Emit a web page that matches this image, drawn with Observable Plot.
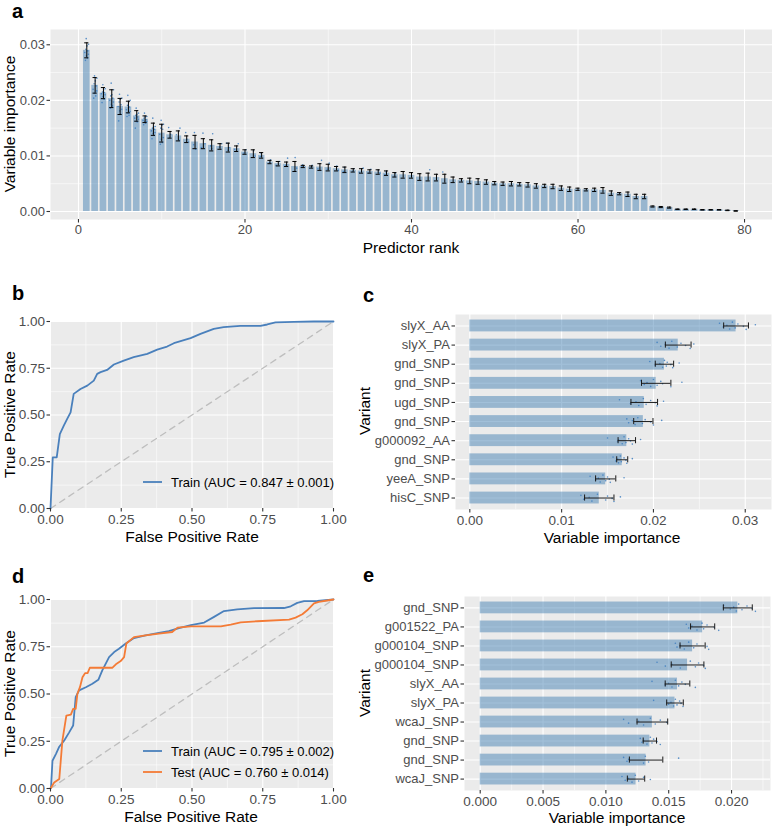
<!DOCTYPE html>
<html><head><meta charset="utf-8">
<script src="https://cdn.jsdelivr.net/npm/d3@7"></script>
<script src="https://cdn.jsdelivr.net/npm/@observablehq/plot@0.6"></script>
<style>
body{margin:0;background:#fff;}
#fig{position:relative;width:772px;height:827px;font-family:"Liberation Sans",Arial,sans-serif;background:#fff;}
</style></head><body><div id="fig"></div>
<script>
// ---------- DATA ----------
// Panel a: mean variable importance by predictor rank (1..79) and error half-widths
const aImportance = [0.0290,0.0227,0.0213,0.0203,0.0189,0.0188,0.0172,0.0166,0.0148,0.0141,
 0.0138,0.0136,0.0130,0.0125,0.0122,0.0119,0.0117,0.0115,0.0113,0.0107,
 0.0104,0.0101,0.0089,0.0086,0.0085,0.0081,0.0081,0.0080,0.0080,0.0079,
 0.0077,0.0075,0.0074,0.0073,0.0072,0.0071,0.0069,0.0066,0.0066,0.0065,
 0.0062,0.0062,0.0061,0.0059,0.0057,0.0056,0.0055,0.0054,0.0053,0.0051,
 0.0050,0.0050,0.0049,0.0048,0.0046,0.0046,0.0045,0.0042,0.0040,0.0040,
 0.0039,0.0039,0.0038,0.0033,0.0032,0.0031,0.0027,0.0027,0.0009,0.0008,
 0.0007,0.0004,0.0004,0.0004,0.0003,0.0003,0.0003,0.0002,0.0001];
const aError = [0.00135,0.0014,0.0010,0.0016,0.00145,0.00105,0.00095,0.0006,0.0011,0.0016,
 0.0006,0.0009,0.0006,0.0012,0.0009,0.0010,0.0005,0.0008,0.0005,0.0004,
 0.0007,0.0005,0.0003,0.0004,0.0004,0.0009,0.0002,0.0002,0.0006,0.0006,
 0.0004,0.0005,0.0003,0.0004,0.0003,0.0004,0.0004,0.0004,0.0006,0.0005,
 0.0006,0.0007,0.0006,0.0008,0.0005,0.0003,0.0005,0.0005,0.0004,0.0003,
 0.0003,0.0004,0.0003,0.0004,0.0004,0.0003,0.0004,0.0004,0.0004,0.0002,
 0.0002,0.0003,0.0005,0.0004,0.0002,0.0004,0.0004,0.0004,0.0001,0.0001,
 0.0001,0.00005,0.00005,0.00005,0.00005,0.00005,0.00005,0.00005,0.00005];
const aExtraRank = [11,11,11,12,12,12,13,13,13,14,14,14,15,15,15,16,16,16,17,17,18,18,18,19,19,
 20,20,21,21,22,22,23,23,24,24,25,25,26,26,27,27,28,28,29,29,30,30,31,31,32,32,33,33,34,34,35,35,36,36,37,37,38,38,42,44];
const aExtraValue = [0.0151,0.0139,0.0133,0.0150,0.0138,0.0128,0.0142,0.0130,0.0125,0.0142,0.0120,0.0112,
 0.0141,0.0122,0.0115,0.0140,0.0118,0.0113,0.0122,0.0116,0.0123,0.0115,0.0110,0.0122,0.0112,
 0.0111,0.0105,0.0109,0.0100,0.0104,0.0099,0.0093,0.0088,0.0090,0.0083,0.0096,0.0083,0.0097,0.0078,
 0.0084,0.0081,0.0083,0.0079,0.0092,0.0077,0.0087,0.0076,0.0082,0.0074,0.0079,0.0072,0.0077,0.0072,
 0.0078,0.0070,0.0076,0.0069,0.0074,0.0069,0.0071,0.0066,0.0069,0.0063,0.0075,0.0071];
const aTicksX = [0,20,40,60,80];
const aTicksY = [0,0.01,0.02,0.03];

// Panel b: ROC (train)
const bFpr = [0,0.008,0.022,0.033,0.047,0.059,0.071,0.082,0.106,0.130,0.153,0.165,0.177,0.200,0.224,0.259,0.294,0.342,0.377,0.412,0.436,0.495,0.530,0.577,0.612,0.671,0.742,0.766,0.795,0.860,0.930,1.0];
const bTpr = [0,0.273,0.273,0.398,0.443,0.479,0.514,0.613,0.639,0.657,0.684,0.720,0.729,0.741,0.770,0.791,0.809,0.827,0.850,0.866,0.884,0.911,0.934,0.961,0.970,0.977,0.977,0.984,0.995,0.998,1.0,1.0];
const rocTicks = [0,0.25,0.5,0.75,1];

// Panel c: top-10 variants (train model)
const cVariant = ["slyX_AA","slyX_PA","gnd_SNP","gnd_SNP","ugd_SNP","gnd_SNP","g000092_AA","gnd_SNP","yeeA_SNP","hisC_SNP"];
const cImportance = [0.0290,0.0227,0.0212,0.0203,0.0190,0.0189,0.0171,0.0166,0.0148,0.0141];
const cError = [0.00135,0.0014,0.0010,0.0016,0.00145,0.00105,0.00095,0.0006,0.0011,0.0016];
const cPoints = [
 [0.0272,0.0276,0.0280,0.0283,0.0286,0.0289,0.0292,0.0298,0.0301,0.0311],
 [0.0204,0.0208,0.0213,0.0217,0.0220,0.0226,0.0230,0.0235,0.0240,0.0244],
 [0.0196,0.0202,0.0207,0.0210,0.0212,0.0214,0.0215,0.0219,0.0221,0.0228],
 [0.0186,0.0190,0.0193,0.0197,0.0200,0.0204,0.0208,0.0210,0.0219,0.0231],
 [0.0163,0.0175,0.0181,0.0184,0.0189,0.0192,0.0197,0.0202,0.0204,0.0211],
 [0.0171,0.0173,0.0177,0.0180,0.0183,0.0188,0.0191,0.0197,0.0200,0.0209],
 [0.0150,0.0161,0.0162,0.0166,0.0168,0.0170,0.0173,0.0175,0.0177,0.0186],
 [0.0156,0.0159,0.0161,0.0162,0.0164,0.0165,0.0168,0.0170,0.0171,0.0177],
 [0.0131,0.0137,0.0140,0.0142,0.0145,0.0148,0.0150,0.0152,0.0153,0.0168],
 [0.0121,0.0124,0.0130,0.0133,0.0139,0.0148,0.0150,0.0155,0.0157,0.0164]];
const cTicksX = [0,0.01,0.02,0.03];

// Panel d: ROC train vs test
const dTrainFpr = [0,0.002,0.007,0.019,0.031,0.048,0.066,0.080,0.089,0.101,0.125,0.148,0.169,0.183,0.207,0.225,0.242,0.266,0.295,0.336,0.383,0.418,0.454,0.496,0.543,0.578,0.613,0.660,0.719,0.825,0.849,0.872,0.896,0.943,1.0];
const dTrainTpr = [0,0.010,0.147,0.182,0.221,0.253,0.297,0.333,0.483,0.519,0.536,0.554,0.575,0.625,0.695,0.722,0.739,0.767,0.796,0.810,0.823,0.833,0.849,0.864,0.878,0.908,0.939,0.948,0.954,0.955,0.964,0.982,0.991,0.992,1.0];
const dTestFpr = [0,0.013,0.031,0.042,0.056,0.072,0.080,0.089,0.095,0.104,0.113,0.122,0.131,0.139,0.219,0.231,0.248,0.260,0.268,0.295,0.336,0.383,0.430,0.449,0.496,0.602,0.637,0.672,0.731,0.843,0.866,0.890,0.907,0.931,0.948,0.983,1.0];
const dTestTpr = [0,0.032,0.050,0.253,0.386,0.391,0.421,0.421,0.501,0.536,0.589,0.610,0.610,0.639,0.639,0.657,0.674,0.695,0.767,0.801,0.810,0.819,0.828,0.851,0.858,0.858,0.867,0.879,0.885,0.894,0.904,0.922,0.943,0.979,0.987,0.996,1.0];

// Panel e: top-10 variants (train/test model)
const eVariant = ["gnd_SNP","g001522_PA","g000104_SNP","g000104_SNP","slyX_AA","slyX_PA","wcaJ_SNP","gnd_SNP","gnd_SNP","wcaJ_SNP"];
const eImportance = [0.0205,0.0177,0.0169,0.0165,0.0157,0.0155,0.0137,0.0135,0.0132,0.0124];
const eError = [0.00115,0.00096,0.0010,0.0013,0.00098,0.00066,0.00122,0.00053,0.00133,0.00069];
const ePoints = [
 [0.01937,0.01990,0.02017,0.02038,0.02057,0.02083,0.02123,0.02163,0.02190],
 [0.01640,0.01659,0.01685,0.01725,0.01765,0.01778,0.01805,0.01863,0.01898],
 [0.01553,0.01566,0.01592,0.01624,0.01659,0.01699,0.01725,0.01805,0.01818],
 [0.01407,0.01473,0.01526,0.01592,0.01672,0.01712,0.01738,0.01778,0.01791],
 [0.01367,0.01473,0.01499,0.01526,0.01553,0.01579,0.01605,0.01632,0.01712],
 [0.01380,0.01500,0.01518,0.01539,0.01553,0.01566,0.01587,0.01598,0.01614],
 [0.01141,0.01181,0.01261,0.01300,0.01354,0.01393,0.01433,0.01486],
 [0.01274,0.01287,0.01300,0.01327,0.01354,0.01367,0.01380,0.01407,0.01433],
 [0.01141,0.01168,0.01181,0.01300,0.01314,0.01340,0.01579],
 [0.01128,0.01154,0.01181,0.01208,0.01234,0.01261,0.01300,0.01354]];
const eTicksX = [0,0.005,0.01,0.015,0.02];

const legendB = ["Train (AUC = 0.847 ± 0.001)"];
const legendD = ["Train (AUC = 0.795 ± 0.002)","Test (AUC = 0.760 ± 0.014)"];

// ---------- STYLE ----------
const FONT = '"Liberation Sans", Arial, Helvetica, sans-serif';
const GREY = "#EBEBEB";
const BAR = "#4682B4";
const PT = "#3C7DC0";
const BLUE = "#4A80BC";
const ORANGE = "#F47B36";
const jitter = [-0.14,0.06,-0.04,0.16,-0.2,0.1,-0.1,0.02,0.18,-0.06];
const fig = document.getElementById("fig");

function place(svg, left, top) {
  svg.style.position = "absolute";
  svg.style.left = left + "px";
  svg.style.top = top + "px";
  fig.appendChild(svg);
}
const baseStyle = {fontFamily: FONT, background: "transparent", overflow: "visible", maxWidth: "none"};
const grid = (scale, ticks, w) => (scale === "x" ? Plot.gridX : Plot.gridY)(ticks, {stroke: "white", strokeOpacity: 1, strokeWidth: w});
const axis = (scale, ticks, fmt, fs) => (scale === "x" ? Plot.axisX : Plot.axisY)({
  ticks, tickFormat: fmt, tickSize: 3.5, tickPadding: 2, stroke: "#333333", strokeWidth: 1.1,
  fill: "#4D4D4D", fontSize: fs, label: null});
const mids = t => t.slice(1).map((v, i) => (v + t[i]) / 2);

// ---------- PANEL a ----------
const aData = aImportance.map((v, i) => ({rank: i + 1, v, lo: v - aError[i], hi: v + aError[i]}));
const aPts = [];
cPoints.forEach((arr, i) => arr.forEach((v, k) => aPts.push({rank: i + 1, v, j: jitter[k % 10]})));
aExtraRank.forEach((r, k) => aPts.push({rank: r, v: aExtraValue[k], j: jitter[k % 10]}));
place(Plot.plot({
  width: 772, height: 240, marginLeft: 50, marginRight: 0, marginTop: 29, marginBottom: 21,
  style: baseStyle,
  x: {domain: [-3.36, 83.36]}, y: {domain: [-0.00144, 0.03275]},
  marks: [
    Plot.frame({fill: GREY, stroke: "none"}),
    grid("x", mids(aTicksX), 0.55), grid("y", mids(aTicksY), 0.55),
    grid("x", aTicksX, 1.1), grid("y", aTicksY, 1.1),
    Plot.rect(aData, {x1: d => d.rank - 0.4, x2: d => d.rank + 0.4, y1: 0, y2: "v", fill: BAR, fillOpacity: 0.5}),
    Plot.dot(aPts, {x: d => d.rank + d.j * 1.2, y: "v", r: 0.8, fill: PT, fillOpacity: 0.85}),
    Plot.ruleX(aData, {x: "rank", y1: "lo", y2: "hi", stroke: "black", strokeWidth: 1}),
    Plot.ruleY(aData, {y: "lo", x1: d => d.rank - 0.25, x2: d => d.rank + 0.25, stroke: "black", strokeWidth: 1}),
    Plot.ruleY(aData, {y: "hi", x1: d => d.rank - 0.25, x2: d => d.rank + 0.25, stroke: "black", strokeWidth: 1}),
    axis("x", aTicksX, d3.format("d"), 13),
    axis("y", aTicksY, d3.format(".2f"), 13)
  ]
}), 0, 0);

// ---------- ROC panel helper ----------
function rocPanel(series, left, top, h, mt, mb) {
  const diag = [0, 1];
  const marks = [
    Plot.frame({fill: GREY, stroke: "none"}),
    grid("x", mids(rocTicks), 0.55), grid("y", mids(rocTicks), 0.55),
    grid("x", rocTicks, 1.1), grid("y", rocTicks, 1.1),
    Plot.line(diag, {x: d => d, y: d => d, stroke: "#BEBEBE", strokeWidth: 1.3, strokeDasharray: "6,5"})
  ];
  series.forEach(s => {
    const data = s.fpr.map((f, i) => ({f, t: s.tpr[i]}));
    marks.push(Plot.line(data, {x: "f", y: "t", stroke: s.color, strokeWidth: 1.8}));
  });
  marks.push(axis("x", rocTicks, d3.format(".2f"), 13.5), axis("y", rocTicks, d3.format(".2f"), 13.5));
  place(Plot.plot({
    width: 345, height: h, marginLeft: 50, marginRight: 12, marginTop: mt, marginBottom: mb,
    style: baseStyle, x: {domain: [0, 1]}, y: {domain: [0, 1]}, marks
  }), left, top);
}
rocPanel([{fpr: bFpr, tpr: bTpr, color: BLUE}], 0, 300, 230, 21, 22);
rocPanel([{fpr: dTrainFpr, tpr: dTrainTpr, color: BLUE}, {fpr: dTestFpr, tpr: dTestTpr, color: ORANGE}], 0, 580, 240, 19, 32);

// ---------- importance panel helper ----------
function impPanel(names, vals, errs, pts, ticks, fmt, xdom, left, top, w, h, ml, mr, mt, mb) {
  const data = vals.map((v, i) => ({i: i + 1, v, lo: v - errs[i], hi: v + errs[i]}));
  const dots = [];
  pts.forEach((arr, i) => arr.forEach((v, k) => dots.push({i: i + 1, v, j: jitter[k % 10]})));
  const idx = data.map(d => d.i);
  place(Plot.plot({
    width: w, height: h, marginLeft: ml, marginRight: mr, marginTop: mt, marginBottom: mb,
    style: baseStyle,
    x: {domain: xdom}, y: {domain: [0.4, 10.6], reverse: true},
    marks: [
      Plot.frame({fill: GREY, stroke: "none"}),
      grid("x", mids(ticks).concat(ticks.length === 4 ? [] : [ticks[ticks.length - 1] + (ticks[1] - ticks[0]) / 2]), 0.55),
      grid("x", ticks, 1.1), grid("y", idx, 1.1),
      Plot.rect(data, {x1: 0, x2: "v", y1: d => d.i - 0.31, y2: d => d.i + 0.31, fill: BAR, fillOpacity: 0.5}),
      Plot.dot(dots, {x: "v", y: d => d.i + d.j, r: 0.8, fill: PT, fillOpacity: 0.85}),
      Plot.ruleY(data, {y: "i", x1: "lo", x2: "hi", stroke: "#1a1a1a", strokeWidth: 1}),
      Plot.ruleX(data, {x: "lo", y1: d => d.i - 0.16, y2: d => d.i + 0.16, stroke: "#1a1a1a", strokeWidth: 1}),
      Plot.ruleX(data, {x: "hi", y1: d => d.i - 0.16, y2: d => d.i + 0.16, stroke: "#1a1a1a", strokeWidth: 1}),
      axis("x", ticks, fmt, 13.5),
      axis("y", idx, i => names[i - 1], 13)
    ]
  }), left, top);
}
impPanel(cVariant, cImportance, cError, cPoints, cTicksX, d3.format(".2f"), [-0.00156, 0.03286], 360, 300, 412, 230, 95, 1, 14, 21);
impPanel(eVariant, eImportance, eError, ePoints, eTicksX, d3.format(".3f"), [-0.00125, 0.0231], 360, 580, 412, 240, 104, 2, 16, 30);

// ---------- text overlay ----------
const ov = d3.select(fig).append("svg").attr("width", 772).attr("height", 827)
  .style("position", "absolute").style("left", 0).style("top", 0).style("pointer-events", "none")
  .style("font-family", FONT);
function title(txt, x, y, rot) {
  ov.append("text").attr("transform", `translate(${x},${y})` + (rot ? " rotate(-90)" : ""))
    .attr("text-anchor", "middle").attr("dominant-baseline", "central")
    .attr("font-size", 15.5).attr("fill", "black").text(txt);
}
function letter(txt, x, y) {
  ov.append("text").attr("x", x).attr("y", y).attr("font-size", 20).attr("font-weight", "bold").attr("fill", "black").text(txt);
}
function legend(items, colors, x, ys) {
  items.forEach((t, i) => {
    ov.append("line").attr("x1", x).attr("x2", x + 19).attr("y1", ys[i]).attr("y2", ys[i])
      .attr("stroke", colors[i]).attr("stroke-width", 1.8);
    ov.append("text").attr("x", x + 28).attr("y", ys[i]).attr("dominant-baseline", "central")
      .attr("font-size", 13).attr("fill", "black").text(t);
  });
}
letter("a", 12, 18);
title("Variable importance", 9, 124, true);
title("Predictor rank", 411, 247);
letter("b", 12, 300);
title("True Positive Rate", 9, 414.5, true);
title("False Positive Rate", 192, 536);
legend(legendB, [BLUE], 143, [482]);
letter("c", 363, 302);
title("Variant", 364, 411, true);
title("Variable importance", 612, 537);
letter("d", 12, 583);
title("True Positive Rate", 9, 693.5, true);
title("False Positive Rate", 191, 816);
legend(legendD, [BLUE, ORANGE], 143, [751, 772]);
letter("e", 363, 582);
title("Variant", 364, 693, true);
title("Variable importance", 617, 817);
</script></body></html>
